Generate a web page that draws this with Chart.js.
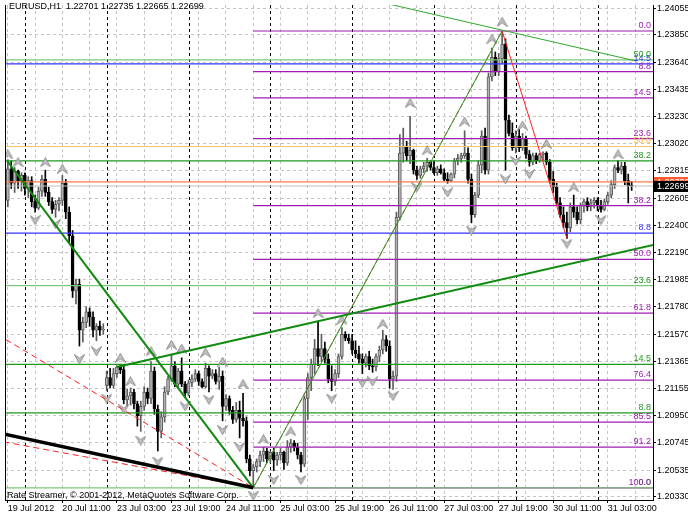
<!DOCTYPE html>
<html lang="en">
<head>
<meta charset="UTF-8">
<title>EURUSD,H1</title>
<script src="https://cdn.jsdelivr.net/npm/chart.js"></script>
<style>
  html, body { margin: 0; padding: 0; background: #fff; }
  #wrap { width: 688px; height: 516px; }
</style>
</head>
<body>
<div id="wrap"><canvas id="myChart" width="688" height="516"></canvas></div>
<script>
// H1 bars, bar 0 = 20 Jul 2012 00:00, first visible bar = 19 Jul 2012 19:00
const firstBar = -5;

const opens = [
  1.2259,1.2283,1.2272,1.2281,1.2274,1.2278,1.2268,1.2274,1.2258,1.2253,
  1.2266,1.2275,1.2265,1.2258,1.2252,1.2256,1.2259,1.2272,1.2250,1.2232,
  1.2190,1.2195,1.2160,1.2166,1.2174,1.2170,1.2160,1.2163,1.2160,1.2118,
  1.2124,1.2118,1.2127,1.2132,1.2130,1.2107,1.2110,1.2113,1.2104,1.2095,
  1.2102,1.2113,1.2108,1.2129,1.2100,1.2083,1.2094,1.2113,1.2123,1.2133,
  1.2119,1.2129,1.2119,1.2112,1.2120,1.2123,1.2127,1.2121,1.2117,1.2131,
  1.2125,1.2127,1.2121,1.2125,1.2102,1.2108,1.2099,1.2092,1.2099,1.2093,
  1.2091,1.2062,1.2053,1.2056,1.2060,1.2065,1.2068,1.2062,1.2067,1.2061,
  1.2065,1.2067,1.2059,1.2071,1.2074,1.2071,1.2065,1.2058,1.2108,1.2124,
  1.2134,1.2146,1.2140,1.2146,1.2138,1.2123,1.2121,1.2127,1.2140,1.2157,
  1.2154,1.2152,1.2145,1.2142,1.2138,1.2135,1.2140,1.2133,1.2132,1.2140,
  1.2145,1.2153,1.2148,1.2123,1.2125,1.2246,1.2295,1.2300,1.2293,1.2297,
  1.2282,1.2278,1.2283,1.2285,1.2288,1.2284,1.2280,1.2283,1.2280,1.2275,
  1.2274,1.2279,1.2289,1.2291,1.2293,1.2295,1.2275,1.2248,1.2263,1.2286,
  1.2308,1.2282,1.2353,1.2368,1.2357,1.2367,1.2378,1.2320,1.2310,1.2299,
  1.2308,1.2299,1.2306,1.2294,1.2288,1.2293,1.2289,1.2294,1.2295,1.2288,
  1.2275,1.2269,1.2257,1.2248,1.2242,1.2238,1.2254,1.2250,1.2244,1.2255,
  1.2258,1.2254,1.2257,1.2259,1.2255,1.2252,1.2258,1.2263,1.2271,1.2284,
  1.2282,1.2285,1.2274,1.22701
];
const highs = [
  1.2290,1.2289,1.2284,1.2282,1.2280,1.2280,1.2277,1.2277,1.2263,1.2269,
  1.2278,1.2282,1.2269,1.2261,1.2259,1.2261,1.2278,1.2275,1.2254,1.2236,
  1.2199,1.2199,1.2170,1.2178,1.2177,1.2174,1.2165,1.2167,1.2165,1.2129,
  1.2131,1.2131,1.2133,1.2134,1.2133,1.2115,1.2116,1.2115,1.2106,1.2106,
  1.2117,1.2116,1.2136,1.2132,1.2103,1.2098,1.2117,1.2125,1.2141,1.2136,
  1.2131,1.2139,1.2121,1.2122,1.2126,1.2130,1.2129,1.2123,1.2135,1.2133,
  1.2130,1.2130,1.2132,1.2129,1.2111,1.2110,1.2102,1.2105,1.2106,1.2112,
  1.2094,1.2065,1.2058,1.2062,1.2068,1.2071,1.2070,1.2068,1.2070,1.2067,
  1.2070,1.2068,1.2076,1.2077,1.2076,1.2074,1.2067,1.2110,1.2127,1.2138,
  1.2153,1.2167,1.2157,1.2151,1.2142,1.2133,1.2130,1.2142,1.2162,1.2159,
  1.2157,1.2157,1.2152,1.2148,1.2142,1.2142,1.2144,1.2138,1.2142,1.2148,
  1.2160,1.2156,1.2152,1.2129,1.2250,1.2309,1.2314,1.2304,1.2323,1.2298,
  1.2285,1.2285,1.2288,1.2291,1.2289,1.2289,1.2285,1.2286,1.2283,1.2280,
  1.2280,1.2291,1.2294,1.2295,1.2312,1.2299,1.2279,1.2265,1.2289,1.2312,
  1.2314,1.2356,1.2375,1.2372,1.2371,1.2388,1.2382,1.2324,1.2318,1.2312,
  1.2313,1.2310,1.2308,1.2297,1.2295,1.2295,1.2295,1.2296,1.2296,1.2290,
  1.2281,1.2272,1.2261,1.2254,1.2250,1.2257,1.2263,1.2254,1.2257,1.2260,
  1.2261,1.2260,1.2261,1.2261,1.2259,1.2260,1.2265,1.2274,1.2286,1.2289,
  1.2288,1.2288,1.2279,1.22735
];
const lows = [
  1.2254,1.2268,1.2265,1.2268,1.2266,1.2263,1.2261,1.2254,1.2250,1.2252,
  1.2262,1.2262,1.2255,1.2249,1.2246,1.2251,1.2255,1.2245,1.2227,1.2185,
  1.2180,1.2148,1.2151,1.2162,1.2163,1.2155,1.2152,1.2156,1.2157,1.2114,
  1.2116,1.2116,1.2124,1.2127,1.2104,1.2102,1.2103,1.2100,1.2087,1.2083,
  1.2099,1.2104,1.2104,1.2096,1.2068,1.2078,1.2090,1.2111,1.2121,1.2117,
  1.2117,1.2117,1.2109,1.2110,1.2117,1.2121,1.2118,1.2116,1.2116,1.2113,
  1.2123,1.2119,1.2115,1.2091,1.2099,1.2096,1.2089,1.2090,1.2078,1.2087,
  1.2059,1.2049,1.2040,1.2052,1.2056,1.2060,1.2059,1.2059,1.2053,1.2057,
  1.2061,1.2054,1.2057,1.2067,1.2068,1.2062,1.2052,1.2056,1.2092,1.2114,
  1.2127,1.2133,1.2136,1.2135,1.2120,1.2114,1.2118,1.2124,1.2138,1.2152,
  1.2150,1.2142,1.2139,1.2135,1.2127,1.2132,1.2130,1.2128,1.2129,1.2136,
  1.2142,1.2144,1.2116,1.2115,1.2121,1.2244,1.2288,1.2289,1.2287,1.2279,
  1.2275,1.2276,1.2280,1.2281,1.2282,1.2279,1.2278,1.2279,1.2274,1.2272,
  1.2273,1.2276,1.2286,1.2288,1.2291,1.2272,1.2242,1.2246,1.2261,1.2280,
  1.2279,1.2279,1.2350,1.2354,1.2354,1.2363,1.2282,1.2308,1.2297,1.2295,
  1.2296,1.2297,1.2291,1.2285,1.2286,1.2287,1.2288,1.2289,1.2286,1.2272,
  1.2265,1.2255,1.2246,1.2238,1.2230,1.2235,1.2246,1.2241,1.2241,1.2250,
  1.2251,1.2251,1.2253,1.2251,1.2250,1.2251,1.2256,1.2261,1.2268,1.2280,
  1.2279,1.2271,1.2257,1.22665
];
const closes = [
  1.2283,1.2272,1.2281,1.2274,1.2278,1.2268,1.2274,1.2258,1.2253,1.2266,
  1.2275,1.2265,1.2258,1.2252,1.2256,1.2259,1.2272,1.2250,1.2232,1.2190,
  1.2195,1.2160,1.2166,1.2174,1.2170,1.2160,1.2163,1.2160,1.2161,1.2124,
  1.2118,1.2127,1.2132,1.2130,1.2107,1.2110,1.2113,1.2104,1.2095,1.2102,
  1.2113,1.2108,1.2129,1.2100,1.2083,1.2094,1.2113,1.2123,1.2133,1.2119,
  1.2129,1.2119,1.2112,1.2120,1.2123,1.2127,1.2121,1.2117,1.2131,1.2125,
  1.2127,1.2121,1.2125,1.2102,1.2108,1.2099,1.2092,1.2099,1.2093,1.2091,
  1.2062,1.2053,1.2056,1.2060,1.2065,1.2068,1.2062,1.2067,1.2061,1.2065,
  1.2067,1.2059,1.2071,1.2074,1.2071,1.2065,1.2058,1.2108,1.2124,1.2134,
  1.2146,1.2140,1.2146,1.2138,1.2123,1.2121,1.2127,1.2140,1.2157,1.2154,
  1.2152,1.2145,1.2142,1.2138,1.2135,1.2140,1.2133,1.2132,1.2140,1.2145,
  1.2153,1.2148,1.2123,1.2125,1.2246,1.2295,1.2300,1.2293,1.2297,1.2282,
  1.2278,1.2283,1.2285,1.2288,1.2284,1.2280,1.2283,1.2280,1.2275,1.2274,
  1.2279,1.2289,1.2291,1.2293,1.2295,1.2275,1.2248,1.2263,1.2286,1.2308,
  1.2282,1.2353,1.2368,1.2357,1.2367,1.2378,1.2320,1.2310,1.2299,1.2308,
  1.2299,1.2306,1.2294,1.2288,1.2293,1.2289,1.2294,1.2295,1.2288,1.2275,
  1.2269,1.2257,1.2248,1.2242,1.2238,1.2254,1.2250,1.2244,1.2255,1.2258,
  1.2254,1.2257,1.2259,1.2255,1.2252,1.2258,1.2263,1.2271,1.2284,1.2282,
  1.2285,1.2274,1.2270,1.22699
];

// axis labels
const priceTicks = ['1.24055','1.23850','1.23640','1.23435','1.23230','1.23020','1.22815','1.22605','1.22400',
  '1.22190','1.21985','1.21780','1.21570','1.21365','1.21155','1.20950','1.20745','1.20535','1.20330'];
const timeTickBars = [-5, 11, 27, 43, 59, 75, 91, 107, 123, 139, 155, 171];
const timeTickLabels = ['19 Jul 2012','20 Jul 11:00','23 Jul 03:00','23 Jul 19:00','24 Jul 11:00','25 Jul 03:00',
  '25 Jul 19:00','26 Jul 11:00','27 Jul 03:00','27 Jul 19:00','30 Jul 11:00','31 Jul 03:00'];
const daySeparators = [0, 24, 48, 72, 96, 120, 144, 168];

// fractals
const fractalUpBars = [-5,-2,6,11,28,31,37,43,46,53,58,64,70,78,86,93,105,113,118,129,137,140,146,153,161,174];
const fractalUpPrices = [1.2294,1.2288,1.2288,1.2283,1.2139,1.2121,1.2144,1.2149,1.2146,1.2143,1.2136,1.2119,1.2077,
  1.2083,1.2173,1.2168,1.2165,1.2333,1.2297,1.2319,1.2382,1.2395,1.2316,1.2302,1.2269,1.2294];
const fractalDownBars = [3,9,16,21,24,29,34,39,47,54,58,63,67,73,81,90,99,102,108,115,124,131,141,144,148,159,169];
const fractalDownPrices = [1.2244,1.2241,1.2138,1.2144,1.2108,1.2100,1.2076,1.2060,1.2102,1.2107,1.2084,1.2071,1.2034,
  1.2046,1.2046,1.2108,1.2120,1.2121,1.2110,1.2269,1.2265,1.2236,1.2275,1.2289,1.2279,1.2226,1.2244];

// fibo levels
const purpleLabels = ['0.0','8.8','14.5','23.6','38.2','50.0','61.8','76.4','85.5','91.2','100.0'];
const purplePrices = [1.2388,1.2357,1.2337,1.2306,1.2255,1.2214,1.2173,1.2122,1.2090,1.2071,1.2040];
const purpleFromBar = 67;
const greenLabels = ['0.0','8.8','14.5','23.6','38.2','50.0'];
const greenPrices = [1.2040,1.2097,1.2134,1.2194,1.2289,1.2366];
const blueLabels = ['8.8','14.5'];
const bluePrices = [1.2234,1.2363];
const orangeLabels = ['50.0'];
const orangePrices = [1.2300];
const askPrice = 1.22730;

// trend lines [bar, price]
const thinGreenLine = [[106, 1.2409], [179.5, 1.2365]];
const fallGreenLine = [[-5.2, 1.2289], [67, 1.2040]];
const riseGreenLine = [[27, 1.2132], [190, 1.22283]];
const swingUpLine = [[67, 1.2040], [140, 1.2388]];
const swingDownLine = [[140, 1.2388], [159, 1.2230]];
const redDashUpper = [[-5.6, 1.2153], [67, 1.2040]];
const redDashLower = [[-6.2, 1.2075], [67, 1.2040]];
const blackLine = [[-6.2, 1.2081], [67, 1.2040]];

const FONT = '9px "Liberation Sans", Arial, sans-serif';
const purple = '#a01cb4', greenMid = '#1f9a1f', greenLight = '#7cc87c', blue = '#3434ff';

// candles
const wickData = [], bodyData = [], wickColors = [], bodyFill = [], bodyEdge = [];
for (let k = 0; k < opens.length; k++) {
  const bar = firstBar + k;
  const up = closes[k] >= opens[k];
  wickData.push({x: bar, y: [lows[k], highs[k]]});
  bodyData.push({x: bar, y: [opens[k], closes[k]]});
  wickColors.push(up ? '#5c5c5c' : '#000');
  bodyFill.push(up ? '#b4b4b4' : '#000');
  bodyEdge.push(up ? '#5c5c5c' : '#000');
}

function seg(pts, color, width, dash, order) {
  return {
    type: 'line', data: pts.map(p => ({x: p[0], y: p[1]})),
    borderColor: color, borderWidth: width, borderDash: dash || [],
    pointRadius: 0, tension: 0, order: order || 1
  };
}
function level(price, from, color, width) {
  return seg([[from, price], [192, price]], color, width || 1.2, [], 3);
}

function arrowImage(up) {
  const c = document.createElement('canvas');
  c.width = 11; c.height = 10;
  const g = c.getContext('2d');
  g.beginPath();
  if (up) { g.moveTo(5.5, 0.5); g.lineTo(10.5, 9.5); g.lineTo(5.5, 6); g.lineTo(0.5, 9.5); }
  else { g.moveTo(5.5, 9.5); g.lineTo(10.5, 0.5); g.lineTo(5.5, 4); g.lineTo(0.5, 0.5); }
  g.closePath();
  g.fillStyle = '#c4c4c4'; g.fill();
  g.strokeStyle = '#8a8a8a'; g.lineWidth = 1; g.stroke();
  return c;
}

const datasets = [];
// horizontal levels
greenPrices.forEach((p, k) => datasets.push(level(p, -10, (k === 0 || k === 3 || k === 5) ? greenLight : greenMid)));
bluePrices.forEach(p => datasets.push(level(p, -10, blue)));
orangePrices.forEach(p => datasets.push(level(p, -10, '#ffc464')));
datasets.push(level(closes[closes.length - 1], -10, '#c0c0c0', 1));
datasets.push(level(askPrice, -10, '#ff7a48'));
purplePrices.forEach(p => datasets.push(level(p, purpleFromBar, purple)));
// trend lines
datasets.push(seg(blackLine, '#000', 3.5));
datasets.push(seg(redDashLower, '#ff2020', 1, [6, 4]));
datasets.push(seg(redDashUpper, '#ff2020', 1, [6, 4]));
datasets.push(seg(fallGreenLine, '#108a10', 2));
datasets.push(seg(riseGreenLine, '#108a10', 2));
datasets.push(seg(thinGreenLine, '#2ea82e', 1));
datasets.push(seg(swingUpLine, '#22a022', 1));
datasets.push(seg(swingUpLine, '#ff2020', 1, [5, 3]));
datasets.push(seg(swingDownLine, '#ff2020', 1));
// fractals
datasets.push({
  type: 'scatter', data: fractalUpBars.map((b, k) => ({x: b, y: fractalUpPrices[k]})),
  pointStyle: arrowImage(true), order: 2
});
datasets.push({
  type: 'scatter', data: fractalDownBars.map((b, k) => ({x: b, y: fractalDownPrices[k]})),
  pointStyle: arrowImage(false), order: 2
});
// candles
datasets.push({
  type: 'bar', data: bodyData, backgroundColor: bodyFill, borderColor: bodyEdge,
  borderWidth: 1, borderSkipped: false, barThickness: 3, minBarLength: 1, grouped: false, order: 5
});
datasets.push({
  type: 'bar', data: wickData, backgroundColor: wickColors,
  borderWidth: 0, barThickness: 1, grouped: false, order: 6
});

const gridBars = [];
for (let b = timeTickBars[0]; b <= 180; b += 8) gridBars.push(b);

const mtPlugin = {
  id: 'mt',
  beforeDraw(chart) {
    const ctx = chart.ctx;
    ctx.save();
    ctx.fillStyle = '#fff';
    ctx.fillRect(0, 0, chart.width, chart.height);
    ctx.restore();
  },
  beforeDatasetsDraw(chart) {
    const {ctx, chartArea: a, scales: {x}} = chart;
    ctx.save();
    ctx.strokeStyle = '#000';
    ctx.lineWidth = 1;
    ctx.setLineDash([3, 3]);
    daySeparators.forEach(b => {
      const px = Math.round(x.getPixelForValue(b)) + 0.5;
      ctx.beginPath(); ctx.moveTo(px, a.top); ctx.lineTo(px, a.bottom); ctx.stroke();
    });
    ctx.restore();
  },
  afterDatasetsDraw(chart) {
    const {ctx, chartArea: a, scales: {y}} = chart;
    ctx.save();
    ctx.font = FONT;
    ctx.textAlign = 'right';
    ctx.textBaseline = 'bottom';
    const put = (labels, prices, color) => labels.forEach((t, k) => {
      ctx.fillStyle = color;
      ctx.fillText(t, a.right - 2, y.getPixelForValue(prices[k]) - 1);
    });
    put(blueLabels, bluePrices, blue);
    put(orangeLabels, orangePrices, '#ffb840');
    put(greenLabels, greenPrices, '#1f9a1f');
    put(purpleLabels, purplePrices, purple);
    // header & copyright
    ctx.textAlign = 'left';
    ctx.textBaseline = 'top';
    ctx.fillStyle = '#000';
    const n = closes.length - 1;
    ctx.fillText('EURUSD,H1  ' + [opens[n], highs[n], lows[n], closes[n]].map(v => v.toFixed(5)).join(' '), a.left + 4, 2);
    ctx.textBaseline = 'bottom';
    ctx.fillText('Rate Streamer, \u00a9 2001-2012, MetaQuotes Software Corp.', a.left + 2, a.bottom);
    ctx.restore();
  },
  afterDraw(chart) {
    const {ctx, chartArea: a, scales: {y}} = chart;
    ctx.save();
    ctx.strokeStyle = '#000';
    ctx.lineWidth = 1;
    ctx.beginPath();
    ctx.moveTo(a.left + 0.5, a.top); ctx.lineTo(a.left + 0.5, a.bottom);
    ctx.stroke();
    ctx.font = FONT;
    ctx.textBaseline = 'middle';
    ctx.textAlign = 'left';
    const box = (price, bg, txt) => {
      const py = y.getPixelForValue(price);
      ctx.fillStyle = bg;
      ctx.fillRect(a.right + 1, Math.round(py) - 5, chart.width - a.right - 1, 11);
      ctx.fillStyle = '#fff';
      ctx.fillText(txt, a.right + 4, Math.round(py) + 0.5);
    };
    box(askPrice, '#ff5a30', askPrice.toFixed(5));
    box(closes[closes.length - 1], '#000', closes[closes.length - 1].toFixed(5));
    ctx.restore();
  }
};

Chart.defaults.font.family = '"Liberation Sans", Arial, sans-serif';
Chart.defaults.font.size = 9;
Chart.defaults.color = '#000';

const chart = new Chart(document.getElementById('myChart').getContext('2d'), {
  type: 'bar',
  data: {datasets: datasets},
  options: {
    responsive: false,
    animation: false,
    devicePixelRatio: 1,
    layout: {padding: {left: 1, top: 1, right: 0, bottom: 0}},
    plugins: {legend: {display: false}, tooltip: {enabled: false}},
    scales: {
      x: {
        type: 'linear',
        min: -5.83,
        max: 184.26,
        offset: false,
        grid: {
          color: '#c4c4c4', offset: false, tickLength: 3,
          tickColor: c => timeTickBars.includes(c.tick && c.tick.value) ? '#000' : 'rgba(0,0,0,0)',
          tickBorderDash: []
        },
        border: {display: true, color: '#000', dash: [3, 3]},
        ticks: {
          autoSkip: false, maxRotation: 0, minRotation: 0, align: 'start', padding: 0,
          callback: v => {
            const k = timeTickBars.indexOf(v);
            return k >= 0 ? timeTickLabels[k] : '';
          }
        },
        afterBuildTicks: s => { s.ticks = gridBars.map(v => ({value: v})); },
        afterFit: s => { s.height = 16; s.paddingLeft = 0; s.paddingRight = 0; }
      },
      y: {
        type: 'linear',
        position: 'right',
        min: 1.20307,
        max: 1.24078,
        grid: {color: '#c4c4c4', tickLength: 3, tickColor: '#000', tickBorderDash: []},
        border: {display: true, color: '#000', dash: [3, 3]},
        ticks: {
          autoSkip: false, padding: 1,
          callback: (v, k) => priceTicks[k]
        },
        afterBuildTicks: s => { s.ticks = priceTicks.map(t => ({value: parseFloat(t)})); },
        afterFit: s => { s.width = 35; s.paddingTop = 0; s.paddingBottom = 0; }
      }
    }
  },
  plugins: [mtPlugin]
});
</script>
</body>
</html>
